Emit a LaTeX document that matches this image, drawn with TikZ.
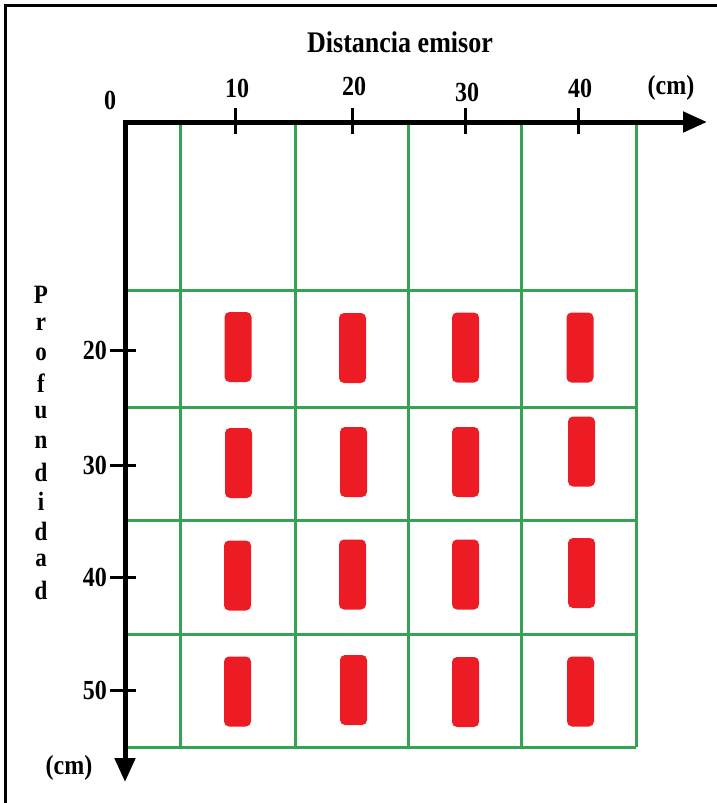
\documentclass[tikz,border=0pt]{standalone}
\usepackage{fontspec}
\setmainfont{Liberation Serif}
\usetikzlibrary{arrows.meta}
\definecolor{gridgreen}{RGB}{52,164,84}
\definecolor{sensred}{RGB}{237,28,36}
\newcommand{\tallt}[1]{\scalebox{1}[1.15]{#1}}
\tikzset{
  gridline/.style={draw=gridgreen,line width=3pt},
  tickline/.style={line width=3pt},
  lbl/.style={font=\fontsize{24}{28}\selectfont\bfseries,inner sep=0pt},
  title/.style={font=\fontsize{26}{30}\selectfont\bfseries,inner sep=0pt},
  vlet/.style={font=\fontsize{23}{26}\selectfont\bfseries,inner sep=0pt},
  sensor/.style={fill=sensred,draw=none,rounded corners=5pt,inner sep=0pt,minimum width=27pt,minimum height=70pt},
}
\begin{document}
\begin{tikzpicture}[x=1pt,y=-1pt]
\useasboundingbox (0,0) rectangle (717,803);
\fill[white] (0,0) rectangle (717,803);
% frame (left and top only)
\draw[line width=3pt] (5,803) -- (5,5) -- (717,5);
% green grid
\foreach \x in {180,295,408,521,636} \draw[gridline] (\x,122) -- (\x,747);
\foreach \y in {290,407,520,634,747} \draw[gridline] (125,\y) -- (636,\y);
% sensors
\node[sensor] (s11) at (238,347) {};
\node[sensor] (s12) at (352.5,348) {};
\node[sensor] (s13) at (465.5,347.5) {};
\node[sensor] (s14) at (580,347.5) {};
\node[sensor] (s21) at (238.5,463) {};
\node[sensor] (s22) at (353.5,462) {};
\node[sensor] (s23) at (465.5,462) {};
\node[sensor] (s24) at (581.5,451.5) {};
\node[sensor] (s31) at (237.5,575.5) {};
\node[sensor] (s32) at (352.5,574.5) {};
\node[sensor] (s33) at (465.5,574.5) {};
\node[sensor] (s34) at (581.5,573) {};
\node[sensor] (s41) at (237.5,691.5) {};
\node[sensor] (s42) at (353.5,690) {};
\node[sensor] (s43) at (465.5,692) {};
\node[sensor] (s44) at (580.5,691.5) {};
% axes
\coordinate (O) at (125,122);
\coordinate (xend) at (707,122);
\coordinate (yend) at (125,782);
\draw[line width=5pt,{Triangle[length=24pt,width=20pt]}-{Triangle[length=24pt,width=20pt]}] (xend) -- (O) -- (yend);
% x ticks and labels
\foreach \x/\t/\ly in {235/10/88,352/20/86,465/30/92,578/40/88}{
  \draw[tickline] (\x,108) -- (\x,134);
  \node[lbl] (xl\t) at (\x+2,\ly) {\tallt{\t}};
}
\node[lbl] (x0) at (110,100) {\tallt{0}};
\node[lbl] (xcm) at (671,88) {\tallt{(cm)}};
\node[title] (ttl) at (400,42) {\tallt{Distancia emisor}};
% y ticks and labels
\foreach \y/\t in {350/20,465/30,577/40,690/50}{
  \draw[tickline] (110,\y) -- (136,\y);
  \node[lbl,anchor=east] (yl\t) at (107,\y) {\tallt{\t}};
}
\node[lbl] (ycm) at (69,768) {\tallt{(cm)}};
% vertical word
\foreach \c [count=\i from 0] in {P,r,o,f,u,n,d,i,d,a,d}{
  \node[vlet] (p\i) at (41,295+29.5*\i) {\tallt{\c}};
}
\end{tikzpicture}
\end{document}
